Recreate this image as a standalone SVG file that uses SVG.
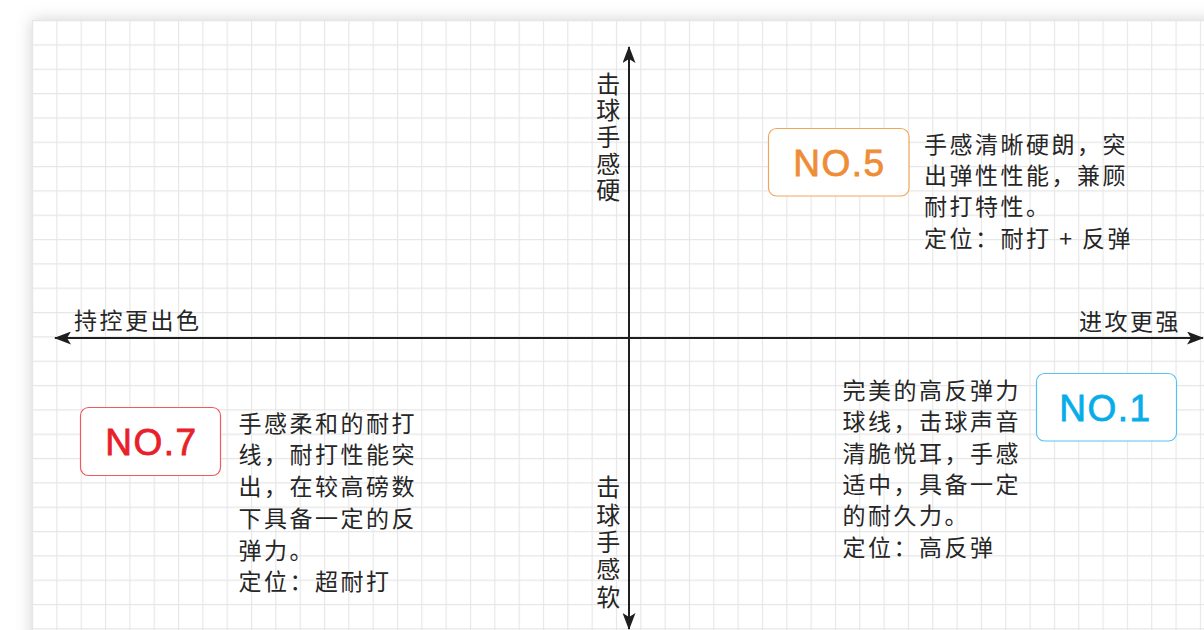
<svg xmlns="http://www.w3.org/2000/svg" width="1204" height="630" viewBox="0 0 1204 630">
  <defs>
    <filter id="shadow" x="-5%" y="-5%" width="110%" height="110%">
      <feDropShadow dx="0" dy="0" stdDeviation="8" flood-color="#000" flood-opacity="0.18"/>
    </filter>
    <pattern id="grid" patternUnits="userSpaceOnUse" x="32" y="20" width="24.33" height="24.33">
      <rect width="24.33" height="24.33" fill="#fff"/>
      <path d="M0.5,0 V24.33 M0,0.5 H24.33" stroke="#e6e6e6" stroke-width="1.2" fill="none"/>
    </pattern>
    <marker id="arrow" viewBox="0 0 17 13" refX="16" refY="6.5" markerWidth="17" markerHeight="13" markerUnits="userSpaceOnUse" orient="auto-start-reverse">
      <path d="M0,0 L17,6.5 L0,13 L4,6.5 Z" fill="#1f1f1f"/>
    </marker>
    <style>
      .cjk { font-family: "Noto Sans CJK SC", "Noto Sans", sans-serif; font-size: 23px; fill: #262626; letter-spacing: 2.5px; dominant-baseline: central; }
      .vlab { font-family: "Noto Sans CJK SC", "Noto Sans", sans-serif; font-size: 24px; fill: #262626; writing-mode: vertical-rl; text-orientation: upright; }
      .no { font-family: "Liberation Sans", Arial, sans-serif; font-size: 37px; text-anchor: middle; letter-spacing: 1.5px; stroke-width: 0.8px; }
      .box { fill: #fff; stroke-width: 1.2; }
      .axis { stroke: #1f1f1f; stroke-width: 2; fill: none; }
    </style>
  </defs>

  <rect x="0" y="0" width="1204" height="630" fill="#fff"/>
  <rect x="32" y="20" width="1200" height="640" fill="url(#grid)" filter="url(#shadow)"/>

  <g id="connectors">
    <path class="axis" d="M55,338 H1203" marker-start="url(#arrow)" marker-end="url(#arrow)"/>
    <path class="axis" d="M629,47 V629" marker-start="url(#arrow)" marker-end="url(#arrow)"/>
  </g>

  <g id="label-left">
    <text class="cjk" x="74" y="319">持控更出色</text>
  </g>
  <g id="label-right">
    <text class="cjk" x="1079" y="320">进攻更强</text>
  </g>
  <g id="label-top">
    <text class="vlab" x="608.3" y="71.7" style="letter-spacing:2.6px">击球手感硬</text>
  </g>
  <g id="label-bottom">
    <text class="vlab" x="608.3" y="475.3" style="letter-spacing:3.3px">击球手感软</text>
  </g>

  <g id="node-no5">
    <rect class="box" x="768.5" y="128.5" width="140.5" height="67.5" rx="8" stroke="#f0a55c"/>
    <text class="no" x="839.5" y="176" fill="#ee8d35" stroke="#ee8d35">NO.5</text>
  </g>
  <g id="desc-no5">
    <text class="cjk">
      <tspan x="924" y="142.5">手感清晰硬朗，突</tspan>
      <tspan x="924" y="173.9">出弹性性能，兼顾</tspan>
      <tspan x="924" y="205.3">耐打特性。</tspan>
      <tspan x="924" y="236.7">定位：耐打 + 反弹</tspan>
    </text>
  </g>

  <g id="node-no1">
    <rect class="box" x="1036.5" y="373.5" width="140" height="67.5" rx="8" stroke="#55c3ef"/>
    <text class="no" x="1105.5" y="420.7" fill="#06ade9" stroke="#06ade9">NO.1</text>
  </g>
  <g id="desc-no1">
    <text class="cjk">
      <tspan x="842.5" y="389">完美的高反弹力</tspan>
      <tspan x="842.5" y="420.3">球线，击球声音</tspan>
      <tspan x="842.5" y="451.6">清脆悦耳，手感</tspan>
      <tspan x="842.5" y="482.9">适中，具备一定</tspan>
      <tspan x="842.5" y="514.2">的耐久力。</tspan>
      <tspan x="842.5" y="545.5">定位：高反弹</tspan>
    </text>
  </g>

  <g id="node-no7">
    <rect class="box" x="80.5" y="407.5" width="140" height="68" rx="8" stroke="#ef5a60"/>
    <text class="no" x="151.4" y="455" fill="#e8202a" stroke="#e8202a">NO.7</text>
  </g>
  <g id="desc-no7">
    <text class="cjk">
      <tspan x="238.5" y="421.7">手感柔和的耐打</tspan>
      <tspan x="238.5" y="453.4">线，耐打性能突</tspan>
      <tspan x="238.5" y="485.1">出，在较高磅数</tspan>
      <tspan x="238.5" y="516.8">下具备一定的反</tspan>
      <tspan x="238.5" y="548.5">弹力。</tspan>
      <tspan x="238.5" y="580.2">定位：超耐打</tspan>
    </text>
  </g>
</svg>
